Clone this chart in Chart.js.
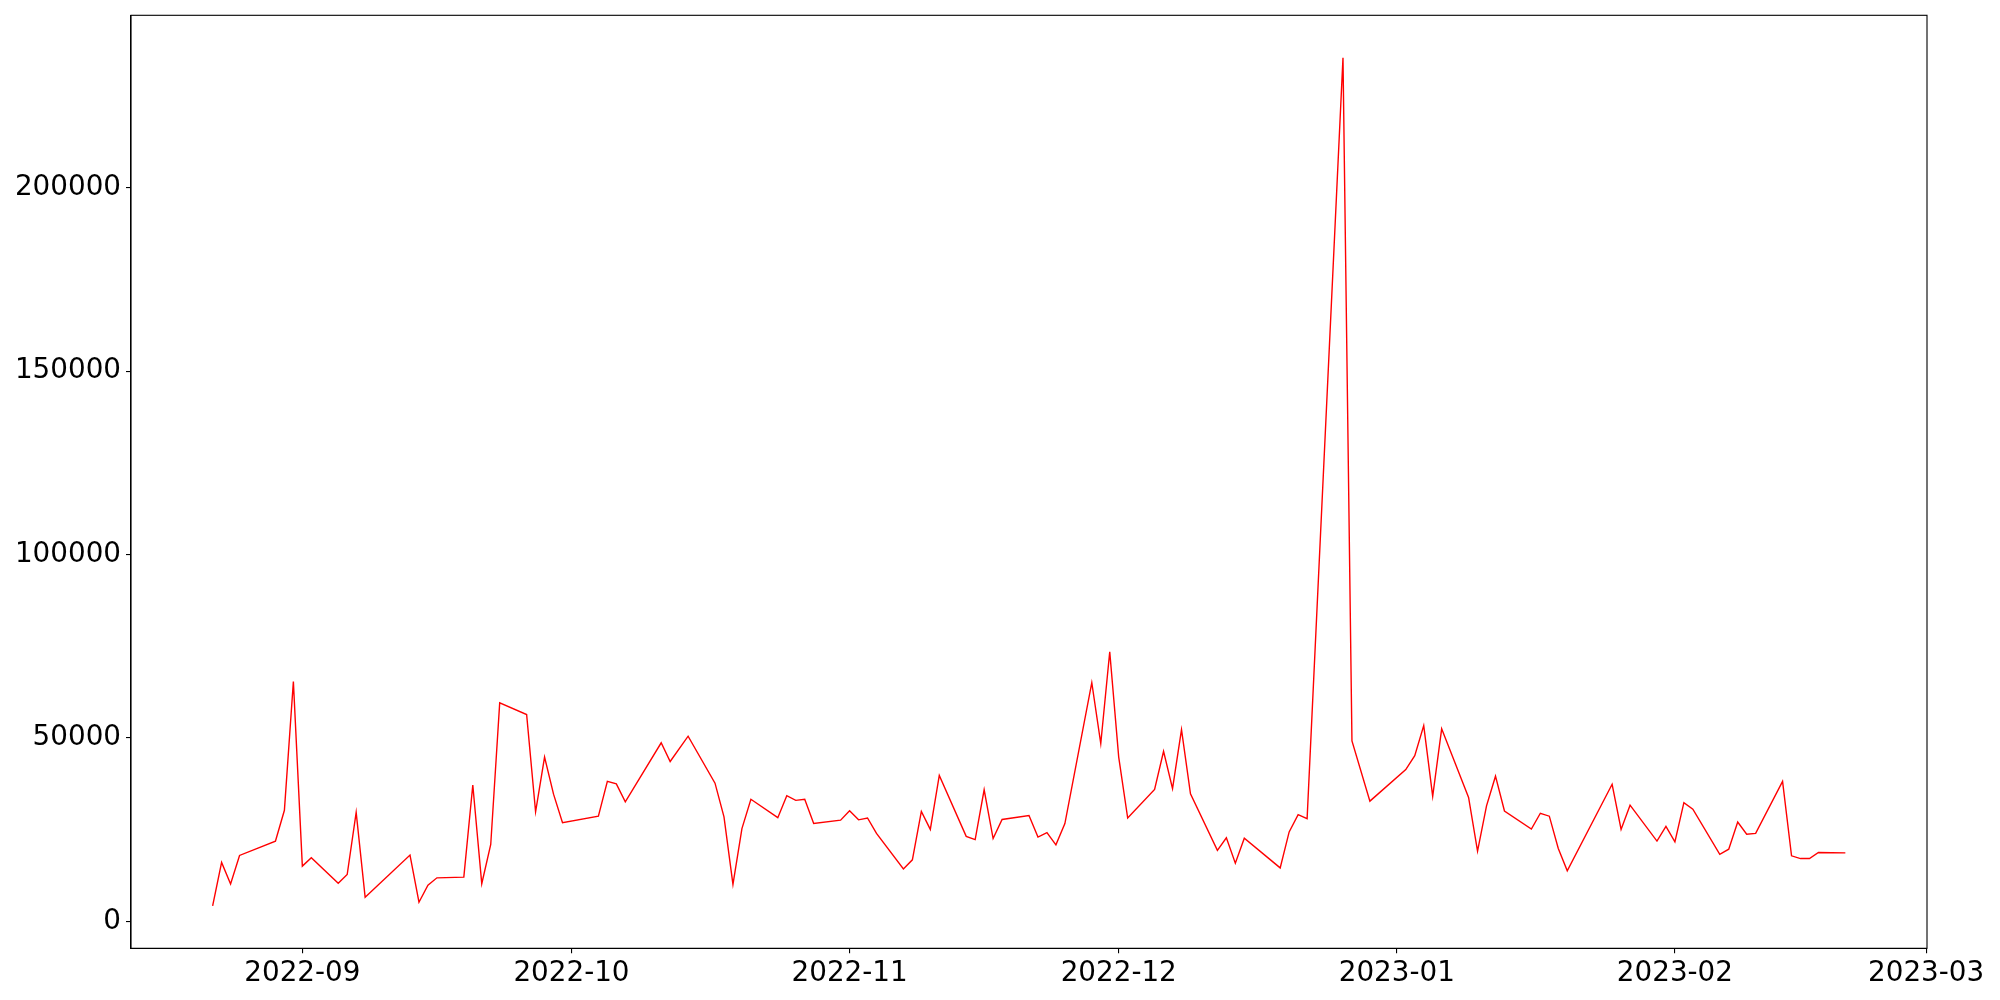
<!DOCTYPE html>
<html>
<head>
<meta charset="utf-8">
<script src="https://cdn.jsdelivr.net/npm/chart.js@4.4.1/dist/chart.umd.min.js"></script>
<style>
  html, body { margin: 0; padding: 0; background: #ffffff; }
  canvas { display: block; }
</style>
</head>
<body>
<canvas id="c" width="2000" height="1000"></canvas>
<script>
// ---- data ----
const dates = [
  "2022-08-22","2022-08-23","2022-08-24","2022-08-25","2022-08-29","2022-08-30","2022-08-31",
  "2022-09-01","2022-09-02","2022-09-05","2022-09-06","2022-09-07","2022-09-08","2022-09-13",
  "2022-09-14","2022-09-15","2022-09-16","2022-09-19","2022-09-20","2022-09-21","2022-09-22",
  "2022-09-23","2022-09-26","2022-09-27","2022-09-28","2022-09-29","2022-09-30","2022-10-04",
  "2022-10-05","2022-10-06","2022-10-07","2022-10-11","2022-10-12","2022-10-14","2022-10-17",
  "2022-10-18","2022-10-19","2022-10-20","2022-10-21","2022-10-24","2022-10-25","2022-10-26",
  "2022-10-27","2022-10-28","2022-10-31","2022-11-01","2022-11-02","2022-11-03","2022-11-04",
  "2022-11-07","2022-11-08","2022-11-09","2022-11-10","2022-11-11","2022-11-14","2022-11-15",
  "2022-11-16","2022-11-17","2022-11-18","2022-11-21","2022-11-22","2022-11-23","2022-11-24",
  "2022-11-25","2022-11-28","2022-11-29","2022-11-30","2022-12-01","2022-12-02","2022-12-05",
  "2022-12-06","2022-12-07","2022-12-08","2022-12-09","2022-12-12","2022-12-13","2022-12-14",
  "2022-12-15","2022-12-19","2022-12-20","2022-12-21","2022-12-22","2022-12-26","2022-12-27",
  "2022-12-29","2023-01-02","2023-01-03","2023-01-04","2023-01-05","2023-01-06","2023-01-09",
  "2023-01-10","2023-01-11","2023-01-12","2023-01-13","2023-01-16","2023-01-17","2023-01-18",
  "2023-01-19","2023-01-20","2023-01-25","2023-01-26","2023-01-27","2023-01-30","2023-01-31",
  "2023-02-01","2023-02-02","2023-02-03","2023-02-06","2023-02-07","2023-02-08","2023-02-09",
  "2023-02-10","2023-02-13","2023-02-14","2023-02-15","2023-02-16","2023-02-17","2023-02-20"
];
const values = [
  4250, 16100, 10200, 18000, 21900, 30300, 65400,
  15100, 17400, 10400, 12800, 29700, 6600, 18100,
  5250, 9900, 11900, 12100, 37200, 10300, 21000,
  59600, 56400, 29900, 44800, 34700, 26900, 28700,
  38200, 37500, 32600, 48700, 43600, 50500, 37700,
  28500, 10100, 25300, 33300, 28300, 34300, 33000,
  33300, 26700, 27600, 30200, 27700, 28200, 24000,
  14300, 16800, 30000, 25100, 39800, 23200, 22300,
  35900, 22600, 27800, 28900, 23000, 24200, 20900,
  26700, 65100, 48500, 73500, 44800, 28200, 36000,
  46400, 36200, 52300, 34800, 19400, 22800, 15900,
  22700, 14600, 24400, 29100, 28000, 235400, 49200,
  32800, 41400, 45200, 53400, 34100, 52500, 33800,
  19200, 31500, 39600, 30100, 25200, 29500, 28700,
  19900, 13800, 37400, 25100, 31700, 21900, 25900,
  21700, 32400, 30600, 18300, 19700, 27100, 23800,
  24000, 38200, 17900, 17150, 17150, 18800, 18700
];
const xTickLabels = ["2022-09","2022-10","2022-11","2022-12","2023-01","2023-02","2023-03"];
const yTickValues = [0, 50000, 100000, 150000, 200000];

// ---- helpers ----
function toMs(s) {
  const p = s.split("-").map(Number);
  return Date.UTC(p[0], p[1] - 1, p.length > 2 ? p[2] : 1);
}
const points = dates.map((d, i) => ({ x: toMs(d), y: values[i] }));
const xTickValues = xTickLabels.map(toMs);

const xs = points.map(p => p.x), ys = values;
const xMinD = Math.min(...xs), xMaxD = Math.max(...xs);
const yMinD = Math.min(...ys), yMaxD = Math.max(...ys);
const xPad = (xMaxD - xMinD) * 0.05, yPad = (yMaxD - yMinD) * 0.05;

const FONT = { family: "'DejaVu Sans', sans-serif", size: 27.8 };

const framePlugin = {
  id: 'frame',
  afterDraw(chart) {
    const a = chart.chartArea, ctx = chart.ctx;
    ctx.save();
    ctx.strokeStyle = '#000';
    ctx.lineWidth = 1.1;
    ctx.strokeRect(a.left, a.top, a.right - a.left, a.bottom - a.top);
    ctx.restore();
  }
};

new Chart(document.getElementById('c'), {
  type: 'line',
  data: {
    datasets: [{
      data: points,
      borderColor: '#ff0000',
      borderWidth: 1.4,
      pointRadius: 0,
      pointHoverRadius: 0,
      fill: false,
      tension: 0
    }]
  },
  options: {
    responsive: false,
    devicePixelRatio: 1,
    animation: false,
    events: [],
    layout: { padding: { top: 15.3, right: 73, bottom: 0, left: 0 } },
    plugins: { legend: { display: false }, tooltip: { enabled: false } },
    scales: {
      x: {
        type: 'linear',
        min: xMinD - xPad,
        max: xMaxD + xPad,
        afterBuildTicks(scale) { scale.ticks = xTickValues.map(v => ({ value: v })); },
        afterFit(scale) { scale.height = 51.7; scale.paddingLeft = 0; scale.paddingRight = 0; },
        ticks: {
          autoSkip: false,
          maxRotation: 0,
          minRotation: 0,
          color: '#000',
          font: FONT,
          padding: 4,
          callback(v) {
            const i = xTickValues.indexOf(v);
            return i >= 0 ? xTickLabels[i] : '';
          }
        },
        grid: { drawOnChartArea: false, drawTicks: true, tickLength: 5, color: '#000', lineWidth: 1.1 },
        border: { display: true, color: '#000', width: 1.1 }
      },
      y: {
        type: 'linear',
        min: yMinD - yPad,
        max: yMaxD + yPad,
        afterBuildTicks(scale) { scale.ticks = yTickValues.map(v => ({ value: v })); },
        afterFit(scale) { scale.width = 131; scale.paddingTop = 0; scale.paddingBottom = 0; },
        ticks: {
          color: '#000',
          font: FONT,
          padding: 5,
          callback(v) { return String(v); }
        },
        grid: { drawOnChartArea: false, drawTicks: true, tickLength: 5, color: '#000', lineWidth: 1.1 },
        border: { display: true, color: '#000', width: 1.1 }
      }
    }
  },
  plugins: [framePlugin]
});
</script>
</body>
</html>
